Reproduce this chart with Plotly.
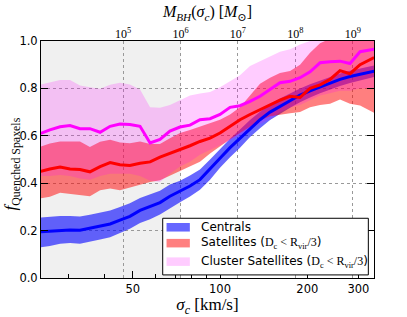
import plotly.graph_objects as go

# velocity dispersion bins [km/s]
sigma = [24.1, 25.9, 28.1, 30.4, 32.9, 35.6, 38.6, 41.8, 45.2, 48.9, 53.0, 57.4, 62.1, 67.2,
         72.8, 78.8, 85.3, 92.4, 100.0, 108.3, 117.2, 126.9, 137.4, 148.8, 161.0, 174.4,
         188.8, 204.4, 221.3, 239.5, 259.3, 280.7, 304.0, 340.0]

cen = [.195, .198, .202, .203, .202, .21, .218, .228, .244, .26, .285, .30, .318, .345, .365, .388,
       .415, .458, .505, .55, .59, .632, .668, .70, .725, .75, .772, .79, .807, .823, .838, .85, .86, .873]
cen_hi = [.255, .258, .262, .262, .26, .267, .275, .285, .3, .315, .338, .352, .368, .395, .41, .432,
          .458, .5, .545, .588, .627, .667, .702, .733, .757, .78, .8, .817, .833, .849, .863, .875, .885, .897]
cen_lo = [.13, .135, .145, .148, .145, .152, .162, .172, .19, .208, .232, .248, .268, .295, .32, .344,
          .372, .415, .465, .51, .55, .595, .632, .667, .692, .718, .742, .762, .78, .796, .81, .823, .834, .848]

sat = [.45, .46, .468, .46, .458, .448, .47, .487, .478, .475, .484, .49, .51, .525, .542, .558,
       .576, .59, .612, .64, .668, .69, .711, .732, .75, .767, .762, .80, .815, .838, .875, .862, .9, .93]
sat_hi = [.555, .567, .576, .576, .576, .553, .575, .583, .572, .569, .576, .565, .565, .59, .612, .625,
          .64, .655, .668, .69, .72, .77, .82, .845, .865, .873, .9, .95, .99, 1.01, 1.03, 1.03, 1.03, 1.03]
sat_lo = [.336, .343, .36, .355, .35, .345, .37, .378, .37, .38, .393, .405, .412, .43, .45, .47,
          .49, .525, .555, .585, .612, .64, .665, .682, .69, .695, .70, .72, .73, .735, .753, .735, .728, .697]

clu = [.61, .625, .638, .643, .63, .63, .615, .64, .65, .648, .64, .57, .585, .62, .637, .645,
       .668, .672, .69, .72, .727, .745, .767, .795, .824, .83, .845, .87, .908, .912, .915, .905, .955, .965]
clu_hi = [.816, .826, .835, .835, .812, .805, .798, .815, .824, .816, .795, .72, .718, .73, .75, .77,
          .778, .785, .805, .83, .855, .895, .915, .935, .955, .965, .985, 1.0, 1.02, 1.02, 1.02, 1.02, 1.02, 1.02]
clu_lo = [.43, .43, .435, .43, .42, .415, .43, .44, .44, .44, .43, .41, .405, .44, .47, .49,
          .52, .54, .56, .58, .6, .63, .65, .67, .70, .72, .73, .75, .77, .78, .79, .79, .80, .80]

# bottom axis ticks
x_major = [50, 100, 200, 300]
x_minor = [30, 40, 60, 70, 80, 90]
y_ticks = [0.0, 0.2, 0.4, 0.6, 0.8, 1.0]

# top axis: black hole mass from M-sigma relation
mbh_exp = [5, 6, 7, 8, 9]
msig_a, msig_b = 8.208, 5.05   # log M = a + b log(sigma/200)
sig_of_m = [200 * 10 ** ((e - msig_a) / msig_b) for e in mbh_exp]

x_range = [1.3828, 2.531]

serif = "Liberation Serif, DejaVu Serif, serif"
sans = "DejaVu Sans, sans-serif"
mathspan = "<span style='font-family:Liberation Serif'>D<sub>c</sub> &lt; R<sub>vir</sub>/3</span>"

series = [
    ("Centrals", cen, cen_lo, cen_hi, "rgba(0,0,255,0.6)", "rgb(0,0,255)"),
    ("Satellites (" + mathspan + ")", sat, sat_lo, sat_hi, "rgba(255,0,0,0.5)", "rgb(255,0,0)"),
    ("Cluster Satellites (" + mathspan + ")", clu, clu_lo, clu_hi, "rgba(255,0,255,0.2)", "rgb(255,0,255)"),
]

fig = go.Figure()

for name, mid, lo, hi, fc, lc in series:
    fig.add_trace(go.Scatter(
        x=sigma + sigma[::-1], y=hi + lo[::-1], fill="toself", fillcolor=fc,
        mode="lines", line=dict(width=0, color=fc), name=name, showlegend=False, hoverinfo="skip"))

for name, mid, lo, hi, fc, lc in series:
    fig.add_trace(go.Scatter(x=sigma, y=mid, mode="lines", line=dict(color=lc, width=3),
                             showlegend=False, hoverinfo="skip"))

# helper trace to activate top axis
fig.add_trace(go.Scatter(x=sig_of_m, y=[None] * len(sig_of_m), xaxis="x2", mode="lines",
                         showlegend=False, hoverinfo="skip"))

# shaded low-sigma region (below 1e6 Msun)
fig.add_shape(type="rect", xref="x", yref="paper", x0=10 ** x_range[0], x1=sig_of_m[1],
              y0=0, y1=1, fillcolor="#f0f0f0", line=dict(width=0), layer="below")

# manual legend (paper coordinates)
L_x0, L_x1, L_y0, L_y1 = 0.3655, 0.983, 0.013, 0.252
fig.add_shape(type="rect", xref="paper", yref="paper", x0=L_x0, x1=L_x1, y0=L_y0, y1=L_y1,
              fillcolor="white", line=dict(color="black", width=1), layer="above")
row_y = [0.214, 0.147, 0.069]
for (name, mid, lo, hi, fc, lc), ry in zip(series, row_y):
    fig.add_shape(type="rect", xref="paper", yref="paper", x0=0.377, x1=0.447,
                  y0=ry - 0.018, y1=ry + 0.018, fillcolor=fc, line=dict(width=0), layer="above")
    fig.add_annotation(xref="paper", yref="paper", x=0.474, y=ry, xanchor="left", yanchor="middle",
                       text=name, showarrow=False, font=dict(family=sans, size=12, color="black"))

# y-axis title as a rotated annotation
fig.add_annotation(xref="paper", yref="paper", x=-0.086, y=0.48, xanchor="center", yanchor="middle",
                   textangle=-90, showarrow=False,
                   text="<i>f</i><sub>Quenched Spaxels</sub>",
                   font=dict(family=serif, size=17, color="black"))

fig.update_layout(
    width=407, height=317,
    margin=dict(l=41, r=33, t=41, b=39, autoexpand=False),
    paper_bgcolor="white", plot_bgcolor="white",
    showlegend=False,
    xaxis=dict(type="log", range=x_range, tickvals=x_major, ticktext=[str(v) for v in x_major],
               ticks="inside", ticklen=7, tickcolor="black", showgrid=False, automargin=False,
               minor=dict(tickvals=x_minor, ticks="inside", ticklen=4, tickcolor="black", showgrid=False),
               showline=True, linecolor="black", linewidth=1, mirror=True, zeroline=False,
               tickfont=dict(family=sans, size=11.5, color="black"),
               title=dict(text="<i>σ<sub>c</sub></i> [km/s]", font=dict(family=serif, size=17, color="black"),
                          standoff=4)),
    xaxis2=dict(type="log", range=x_range, overlaying="x", side="top", anchor="y", automargin=False,
                tickvals=sig_of_m, ticktext=["10<sup>%d</sup>" % e for e in mbh_exp],
                ticks="", showgrid=True, griddash="dot", gridcolor="#999999", gridwidth=1,
                tickfont=dict(family=serif, size=12, color="black"),
                title=dict(text="<i>M<sub>BH</sub></i>(<i>σ<sub>c</sub></i>) [<i>M</i><sub>⊙</sub>]",
                           font=dict(family=serif, size=16, color="black"), standoff=3)),
    yaxis=dict(range=[0, 1], tickvals=y_ticks, tickformat=".1f", ticks="inside", ticklen=7,
               tickcolor="black", showgrid=True, griddash="dot", gridcolor="#999999", automargin=False,
               showline=True, linecolor="black", linewidth=1, mirror="ticks", zeroline=False,
               tickfont=dict(family=sans, size=11.5, color="black")),
)

fig.write_html("out.html", config={"displayModeBar": False},
               post_script="document.body.style.margin='0px';")
